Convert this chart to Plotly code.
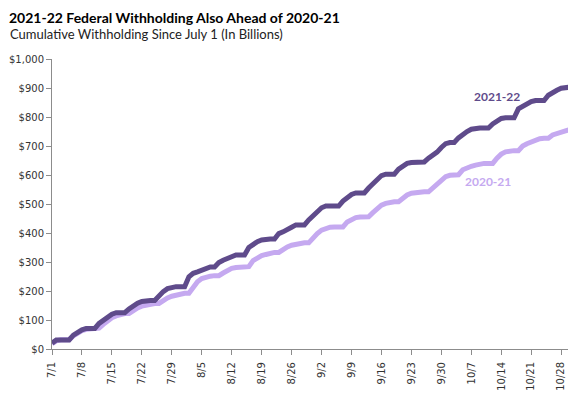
import plotly.graph_objects as go
import pandas as pd

dates = pd.date_range("2021-07-01", "2021-10-30", freq="D").strftime("%Y-%m-%d").tolist()

fy2022 = [
    20, 31, 31, 31, 31, 48, 58, 66, 71, 71, 71,            # 7/1-7/11
    88, 100, 108, 120, 125, 125, 125,                        # 7/12-7/18
    138, 150, 158, 164, 167, 167, 167,                       # 7/19-7/25
    184, 198, 208, 213, 215, 215, 215,                       # 7/26-8/1
    249, 261, 266, 272, 281, 283, 283,                       # 8/2-8/8
    298, 306, 313, 320, 324, 324, 324,                       # 8/9-8/15
    350, 362, 370, 376, 379, 379, 379,                       # 8/16-8/22
    398, 404, 410, 420, 428, 428, 428,                       # 8/23-8/29
    445, 458, 472, 487, 493, 493, 493,                       # 8/30-9/5
    493, 510, 524, 533, 538, 538, 538,                       # 9/6-9/12
    555, 570, 585, 598, 603, 603, 603,                       # 9/13-9/19
    620, 632, 640, 643, 645, 645, 645,                       # 9/20-9/26
    658, 668, 679, 695, 708, 712, 712,                       # 9/27-10/3
    728, 740, 750, 758, 762, 762, 762,                       # 10/4-10/10
    762, 776, 788, 795, 797, 797, 797,                       # 10/11-10/17
    828, 838, 846, 853, 857, 857, 857,                       # 10/18-10/24
    875, 885, 892, 899, 903, 903,                            # 10/25-10/30
]

fy2021 = [
    18, 28, 32, 32, 32, 45, 55, 63, 68, 70, 72, 72,          # 7/1-7/12
    85, 98, 108, 114, 120, 122, 122,                         # 7/13-7/19
    133, 142, 148, 152, 155, 157, 157,                       # 7/20-7/26
    168, 176, 182, 186, 190, 192, 192,                       # 7/27-8/2
    215, 232, 243, 248, 251, 253, 253,                       # 8/3-8/9
    262, 272, 278, 281, 283, 284, 284,                       # 8/10-8/16
    305, 316, 322, 326, 330, 333, 333,                       # 8/17-8/23
    345, 352, 358, 362, 365, 366, 366,                       # 8/24-8/30
    385, 398, 410, 417, 420, 421, 421, 421,                  # 8/31-9/7
    438, 448, 453, 455, 456, 456,                            # 9/8-9/13
    470, 485, 496, 502, 506, 508, 508,                       # 9/14-9/20
    522, 531, 537, 540, 541, 542, 542,                       # 9/21-9/27
    556, 570, 583, 594, 599, 601, 601,                       # 9/28-10/4
    618, 626, 630, 634, 638, 640, 640, 640,                  # 10/5-10/12
    658, 672, 680, 683, 684, 684,                            # 10/13-10/18
    700, 708, 715, 720, 725, 727, 727,                       # 10/19-10/25
    738, 744, 748, 752, 757,                                 # 10/26-10/30
]

tick_dates = pd.date_range("2021-07-01", "2021-10-28", freq="7D")
tick_vals = tick_dates.strftime("%Y-%m-%d").tolist()
tick_text = [f"{d.month}/{d.day}" for d in tick_dates]

title = "2021-22 Federal Withholding Also Ahead of 2020-21"
subtitle = "Cumulative Withholding Since July 1 (In Billions)"

DARK = "#5F4B8B"
LIGHT = "#C5A9F0"
AXIS = "#8C8C8C"

# page body has an 8px margin: figure drawn at (8, 8)
W, H = 568, 385
L, R, T, B = 44, 2, 51, 44
PW, PH = W - L - R, H - T - B

fig = go.Figure()
fig.add_trace(go.Scatter(x=dates, y=fy2021, mode="lines", name="2020-21",
                         line=dict(color=LIGHT, width=5)))
fig.add_trace(go.Scatter(x=dates, y=fy2022, mode="lines", name="2021-22",
                         line=dict(color=DARK, width=5)))

fig.update_layout(
    width=W, height=H,
    margin=dict(l=L, r=R, t=T, b=B),
    paper_bgcolor="white", plot_bgcolor="white",
    showlegend=False,
    font=dict(family="DejaVu Sans", size=10, color="#333333"),
    xaxis=dict(
        range=["2021-07-01", "2021-10-31"],
        tickvals=tick_vals, ticktext=tick_text, tickangle=-90,
        showgrid=False, zeroline=False,
        showline=True, linecolor=AXIS, linewidth=1,
        ticks="outside", ticklen=5, tickcolor=AXIS,
        ticklabelstandoff=3,
        tickfont=dict(family="DejaVu Sans", size=10, color="#333333"),
        automargin=False,
    ),
    yaxis=dict(
        range=[0, 1000], dtick=100, tickprefix="$", tickformat=",d",
        showgrid=False, zeroline=False,
        showline=True, linecolor=AXIS, linewidth=1,
        ticks="outside", ticklen=5, tickcolor=AXIS,
        tickfont=dict(family="DejaVu Sans", size=10, color="#333333"),
        automargin=False,
    ),
    annotations=[
        dict(text=f"<b>{title}</b>", xref="paper", yref="paper",
             x=-L / PW, y=1 + T / PH, xanchor="left", yanchor="top", borderpad=0,
             showarrow=False, font=dict(family="Lato", size=14, color="#000000")),
        dict(text=subtitle, xref="paper", yref="paper",
             x=-L / PW, y=1 + (T - 26) / PH, xanchor="left", yanchor="middle",
             showarrow=False, font=dict(family="Lato", size=13, color="#222222")),
        dict(text="<b>2021-22</b>", x="2021-10-13", y=872, xanchor="center", yanchor="middle",
             showarrow=False, font=dict(family="Lato", size=12, color=DARK)),
        dict(text="<b>2020-21</b>", x="2021-10-11", y=579, xanchor="center", yanchor="middle",
             showarrow=False, font=dict(family="Lato", size=12, color=LIGHT)),
    ],
)

fig.write_html("out.html")
